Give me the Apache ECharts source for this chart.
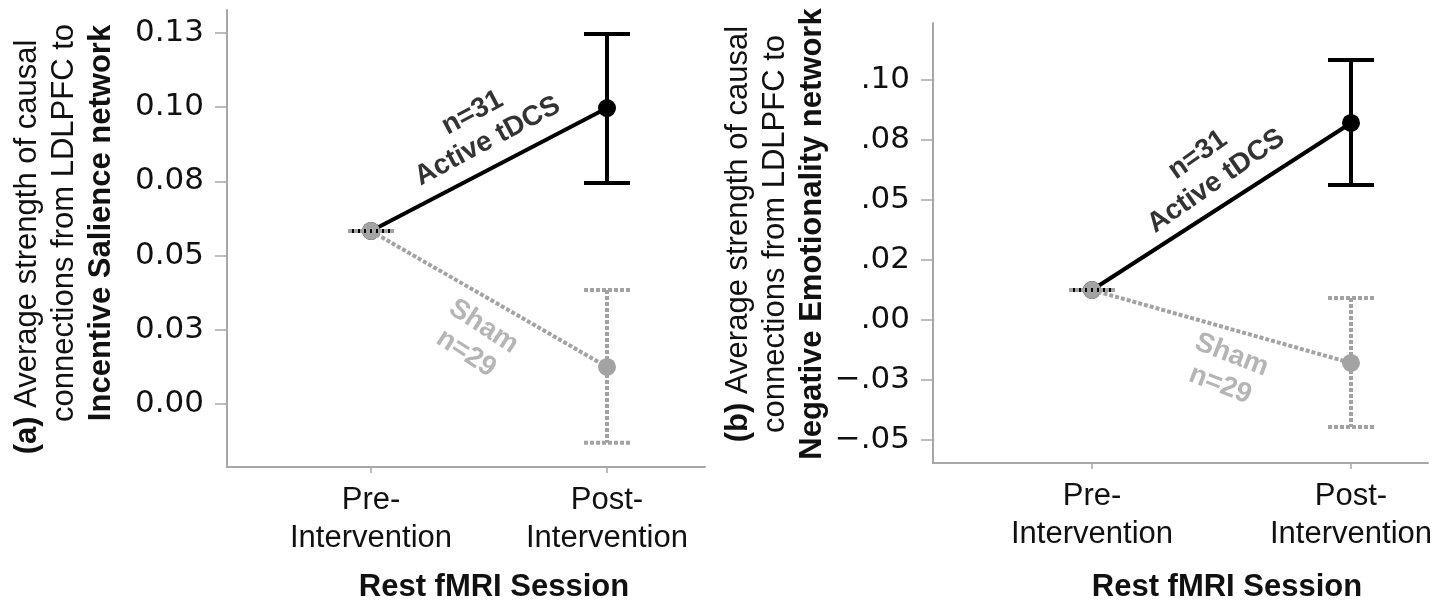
<!DOCTYPE html>
<html>
<head>
<meta charset="utf-8">
<script src="https://cdn.jsdelivr.net/npm/echarts@6.0.0/dist/echarts.min.js"></script>
<style>
  html, body { margin: 0; padding: 0; background: #fff; }
  #chart { width: 1447px; height: 604px; }
</style>
</head>
<body>
<div id="chart"></div>
<script>
  // sessions on the x axis (placed at 1 and 2 on a value axis)
  const categories = ['Pre-\nIntervention', 'Post-\nIntervention'];
  const categoryPos = [1, 2];

  // (a) LDLPFC -> Incentive Salience network
  const salienceActiveMean = [0.0583, 0.0997];
  const salienceActiveLow = [0.0583, 0.0745];
  const salienceActiveHigh = [0.0583, 0.1247];
  const salienceShamMean = [0.0583, 0.0125];
  const salienceShamLow = [0.0583, -0.0131];
  const salienceShamHigh = [0.0583, 0.0384];
  const salienceTicks = [0, 0.025, 0.05, 0.075, 0.1, 0.125];
  const salienceTickLabels = ['0.00', '0.03', '0.05', '0.08', '0.10', '0.13'];

  // (b) LDLPFC -> Negative Emotionality network
  const emotionActiveMean = [0.0125, 0.0821];
  const emotionActiveLow = [0.0125, 0.0563];
  const emotionActiveHigh = [0.0125, 0.1083];
  const emotionShamMean = [0.0125, -0.0179];
  const emotionShamLow = [0.0125, -0.0446];
  const emotionShamHigh = [0.0125, 0.0092];
  const emotionTicks = [-0.05, -0.025, 0, 0.025, 0.05, 0.075, 0.1];
  const emotionTickLabels = ['\u2212.05', '\u2212.03', '.00', '.02', '.05', '.08', '.10'];

  const GRAY = '#a3a3a3';
  const AXIS = '#a8a8a8';
  const SANS = 'Liberation Sans';

  function pairs(ys) {
    return ys.map((y, i) => [categoryPos[i], y]);
  }
  function bars(lo, hi) {
    return lo.map((l, i) => [categoryPos[i], l, hi[i]]);
  }
  function tickLabel(ticks, labels) {
    return function (v) {
      const i = ticks.findIndex(t => Math.abs(t - v) < 1e-9);
      return i < 0 ? '' : labels[i];
    };
  }

  // error bar with caps, drawn through the axes' own scales
  function errorBar(color, dash) {
    return function (params, api) {
      const x = api.value(0);
      const lo = api.coord([x, api.value(1)]);
      const hi = api.coord([x, api.value(2)]);
      const w = 23;
      const style = { stroke: color, lineWidth: 4, fill: null };
      if (dash) style.lineDash = dash;
      return {
        type: 'group',
        children: [
          { type: 'line', shape: { x1: hi[0], y1: hi[1], x2: lo[0], y2: lo[1] }, style: style },
          { type: 'line', shape: { x1: hi[0] - w, y1: hi[1], x2: hi[0] + w, y2: hi[1] }, style: style },
          { type: 'line', shape: { x1: lo[0] - w, y1: lo[1], x2: lo[0] + w, y2: lo[1] }, style: style }
        ]
      };
    };
  }

  function xAxisFor(gridIndex, min, max) {
    return {
      type: 'value', gridIndex: gridIndex, min: min, max: max,
      splitLine: { show: false },
      axisLine: { show: true, onZero: false, lineStyle: { color: AXIS, width: 2 } },
      axisTick: { show: true, customValues: categoryPos, length: 6, lineStyle: { color: AXIS, width: 1.5 } },
      axisLabel: {
        customValues: categoryPos,
        formatter: v => categories[categoryPos.indexOf(v)],
        fontFamily: SANS, fontSize: 31, lineHeight: 38, color: '#111', margin: 14
      }
    };
  }

  function yAxisFor(gridIndex, min, max, ticks, labels) {
    return {
      type: 'value', gridIndex: gridIndex, min: min, max: max,
      splitLine: { show: false },
      axisLine: { show: true, onZero: false, lineStyle: { color: AXIS, width: 2 } },
      axisTick: { show: true, customValues: ticks, length: 12, lineStyle: { color: AXIS, width: 1.5 } },
      axisLabel: {
        customValues: ticks,
        formatter: tickLabel(ticks, labels),
        fontFamily: 'DejaVu Sans', fontSize: 31, color: '#111', margin: 23
      }
    };
  }

  function meanLine(idx, data, color, dash, z) {
    return {
      type: 'line', xAxisIndex: idx, yAxisIndex: idx, data: pairs(data),
      symbol: 'circle', symbolSize: 18, z: z,
      lineStyle: { color: color, width: 4, type: dash || 'solid', cap: 'butt' },
      itemStyle: { color: color }
    };
  }

  function errSeries(idx, lo, hi, color, dash, z) {
    return {
      type: 'custom', xAxisIndex: idx, yAxisIndex: idx, z: z,
      renderItem: errorBar(color, dash),
      encode: { x: 0, y: [1, 2] },
      data: bars(lo, hi)
    };
  }

  function notes(idx, items) {
    return {
      type: 'scatter', xAxisIndex: idx, yAxisIndex: idx, symbolSize: 0, silent: true, z: 10,
      label: {
        show: true, position: 'inside', fontFamily: SANS, fontWeight: 'bold',
        fontSize: 28, lineHeight: 32, align: 'center', verticalAlign: 'middle'
      },
      data: items
    };
  }

  // rotated axis title text
  function vText(x, y, text) {
    return {
      type: 'text', x: x, y: y, rotation: Math.PI / 2,
      style: {
        text: text,
        fontFamily: SANS, fontSize: 31, lineHeight: 37, fill: '#111',
        align: 'center', verticalAlign: 'middle',
        rich: { b: { fontFamily: SANS, fontSize: 31, fontWeight: 'bold', fill: '#111' } }
      }
    };
  }

  const chart = echarts.init(document.getElementById('chart'));

  chart.setOption({
    animation: false,
    grid: [
      { left: 227, top: 10, width: 478, height: 457 },
      { left: 933, top: 23, width: 495, height: 440 }
    ],
    xAxis: [
      xAxisFor(0, 0.3898, 2.4153),
      xAxisFor(1, 0.3861, 2.2973)
    ],
    yAxis: [
      yAxisFor(0, -0.02123, 0.13275, salienceTicks, salienceTickLabels),
      yAxisFor(1, -0.05958, 0.12375, emotionTicks, emotionTickLabels)
    ],
    graphic: [
      vText(27, 247, '{b|(a)} Average strength of causal'),
      vText(82.5, 223, 'connections from LDLPFC to\n{b|Incentive Salience network}'),
      vText(775, 234, '{b|(b)} Average strength of causal\nconnections from LDLPFC to\n{b|Negative Emotionality network}'),
      {
        type: 'text', x: 494, y: 587,
        style: { text: 'Rest fMRI Session', fontFamily: SANS, fontSize: 31, fontWeight: 'bold', fill: '#111', align: 'center', verticalAlign: 'middle' }
      },
      {
        type: 'text', x: 1227, y: 587,
        style: { text: 'Rest fMRI Session', fontFamily: SANS, fontSize: 31, fontWeight: 'bold', fill: '#111', align: 'center', verticalAlign: 'middle' }
      }
    ],
    series: [
      meanLine(0, salienceActiveMean, '#000', null, 2),
      meanLine(0, salienceShamMean, GRAY, [4, 2], 3),
      errSeries(0, salienceActiveLow, salienceActiveHigh, '#000', null, 4),
      errSeries(0, salienceShamLow, salienceShamHigh, GRAY, [4, 2], 5),
      notes(0, [
        { value: [1.462, 0.0933], label: { formatter: 'n=31\nActive tDCS', rotate: 28, color: '#000' } },
        { value: [1.44, 0.0216], label: { formatter: 'Sham\nn=29', rotate: -33, color: GRAY } }
      ]),

      meanLine(1, emotionActiveMean, '#000', null, 2),
      meanLine(1, emotionShamMean, GRAY, [4, 2], 3),
      errSeries(1, emotionActiveLow, emotionActiveHigh, '#000', null, 4),
      errSeries(1, emotionShamLow, emotionShamHigh, GRAY, [4, 2], 5),
      notes(1, [
        { value: [1.444, 0.0633], label: { formatter: 'n=31\nActive tDCS', rotate: 35, color: '#000' } },
        { value: [1.517, -0.0208], label: { formatter: 'Sham\nn=29', rotate: -21, color: GRAY } }
      ])
    ]
  });
</script>
</body>
</html>
